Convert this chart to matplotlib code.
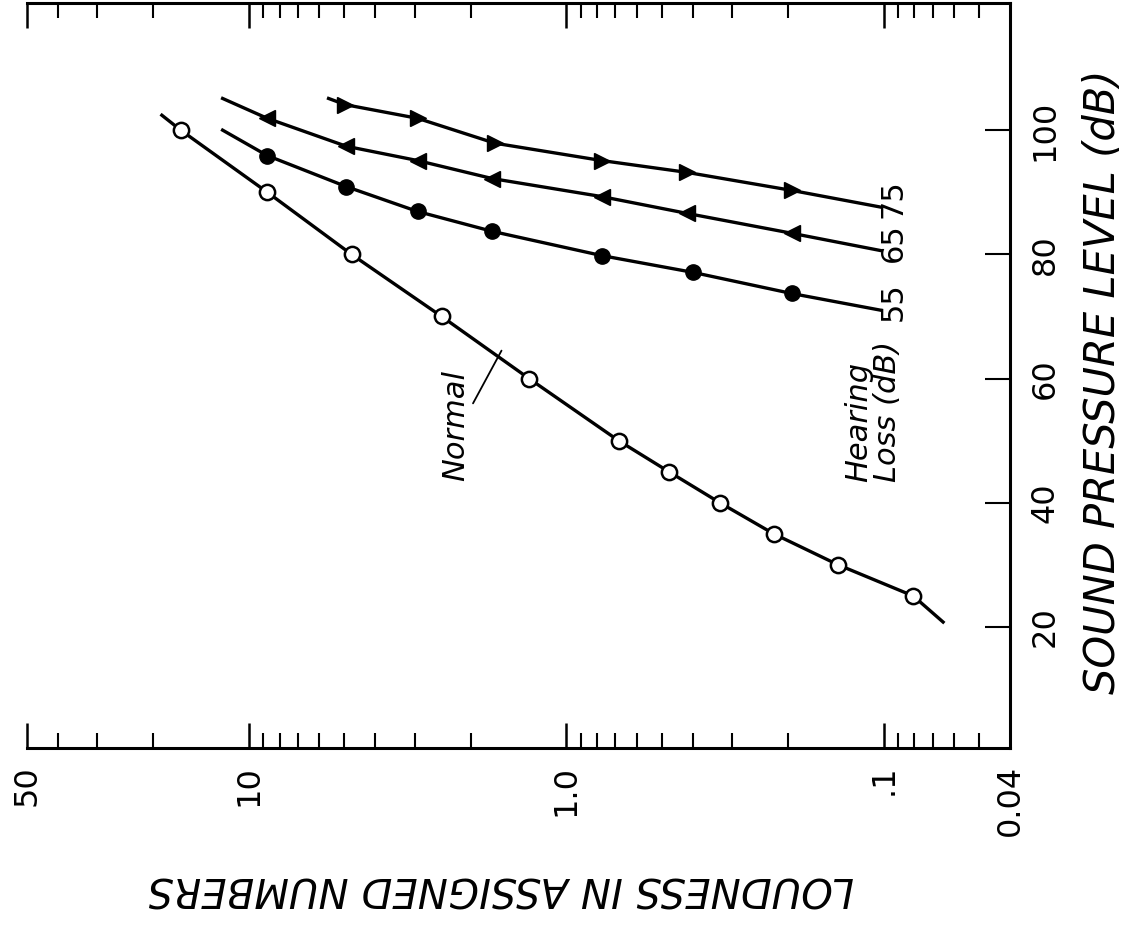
import matplotlib.pyplot as plt
from matplotlib.ticker import FixedLocator, LogLocator, NullFormatter

# Curva normal (circulos abiertos)
normal_loud = [16.4, 8.75, 4.75, 2.47, 1.31, 0.684, 0.475, 0.328, 0.222, 0.139, 0.0807]
normal_spl = [100, 90, 80, 70, 60, 50, 45, 40, 35, 30, 25]
normal_line_loud = [18.8, 16.4, 8.75, 4.75, 2.47, 1.31, 0.684, 0.475, 0.328, 0.222, 0.139, 0.0807, 0.065]
normal_line_spl = [102.4, 100, 90, 80, 70, 60, 50, 45, 40, 35, 30, 25, 20.8]

# Perdida auditiva 55 dB (circulos llenos)
hl55_loud = [8.75, 4.93, 2.94, 1.71, 0.773, 0.399, 0.195]
hl55_spl = [95.9, 90.9, 86.9, 83.7, 79.8, 77.1, 73.7]
hl55_line_loud = [12.1, 8.75, 4.93, 2.94, 1.71, 0.773, 0.399, 0.195, 0.102]
hl55_line_spl = [100.0, 95.9, 90.9, 86.9, 83.7, 79.8, 77.1, 73.7, 71.0]

# Perdida auditiva 65 dB (triangulos a la izquierda)
hl65_loud = [8.75, 4.93, 2.94, 1.71, 0.773, 0.417, 0.195]
hl65_spl = [101.9, 97.4, 95.1, 92.2, 89.3, 86.6, 83.4]
hl65_line_loud = [12.1, 8.75, 4.93, 2.94, 1.71, 0.773, 0.417, 0.195, 0.102]
hl65_line_spl = [105.1, 101.9, 97.4, 95.1, 92.2, 89.3, 86.6, 83.4, 80.6]

# Perdida auditiva 75 dB (triangulos a la derecha)
hl75_loud = [4.97, 2.94, 1.68, 0.773, 0.417, 0.195]
hl75_spl = [104.1, 101.9, 97.9, 95.1, 93.2, 90.3]
hl75_line_loud = [5.61, 4.97, 2.94, 1.68, 0.773, 0.417, 0.195, 0.102]
hl75_line_spl = [105.1, 104.1, 101.9, 97.9, 95.1, 93.2, 90.3, 87.6]

x_ticks = [50, 10, 1, 0.1, 0.04]
x_tick_labels = ['50', '10', '1.0', '.1', '0.04']
y_ticks = [20, 40, 60, 80, 100]

fig = plt.figure(figsize=(11.26, 9.34), dpi=100)
ax = fig.add_axes([0.024, 0.199, 0.873, 0.798])

lw = 2.4
ax.plot(normal_line_loud, normal_line_spl, color='black', lw=lw)
ax.plot(normal_loud, normal_spl, 'o', ms=11, mfc='white', mec='black', mew=1.8)

ax.plot(hl55_line_loud, hl55_line_spl, color='black', lw=lw)
ax.plot(hl55_loud, hl55_spl, 'o', ms=11, color='black')

ax.plot(hl65_line_loud, hl65_line_spl, color='black', lw=lw)
ax.plot(hl65_loud, hl65_spl, '<', ms=12, color='black')

ax.plot(hl75_line_loud, hl75_line_spl, color='black', lw=lw)
ax.plot(hl75_loud, hl75_spl, '>', ms=12, color='black')

# etiquetas al final de cada curva
for lx, ly, txt in [(hl55_line_loud[-1], hl55_line_spl[-1], '55'),
                    (hl65_line_loud[-1], hl65_line_spl[-1], '65'),
                    (hl75_line_loud[-1], hl75_line_spl[-1], '75')]:
    ax.annotate(txt, xy=(lx, ly), xytext=(9, 6), textcoords='offset points',
                rotation=90, ha='center', va='center', fontsize=22)

ax.text(0.108, 43.3, 'Hearing\nLoss (dB)', rotation=90, ha='center', va='bottom',
        multialignment='left', fontsize=22, style='italic', linespacing=1.0)

ax.annotate('Normal', xy=(1.6, 64.5), xytext=(2.23, 52.5), rotation=90,
            ha='center', va='center', fontsize=22, style='italic',
            arrowprops=dict(arrowstyle='-', color='black', lw=1.3,
                            shrinkA=0, shrinkB=0, relpos=(1.0, 0.65)))

ax.set_xscale('log')
ax.set_xlim(50, 0.04)
ax.set_ylim(0.5, 120.5)

ax.xaxis.set_major_locator(FixedLocator(x_ticks))
ax.set_xticklabels(x_tick_labels)
ax.xaxis.set_minor_locator(LogLocator(base=10, subs=range(2, 10), numticks=20))
ax.xaxis.set_minor_formatter(NullFormatter())
ax.tick_params(axis='x', which='major', direction='in', length=18, width=1.8,
               top=True, labelsize=23, labelrotation=90, pad=12)
ax.tick_params(axis='x', which='minor', direction='in', length=11, width=1.5, top=True)

ax.yaxis.tick_right()
ax.set_yticks(y_ticks)
ax.tick_params(axis='y', direction='in', length=18, width=1.5, left=False,
               right=True, labelsize=23, labelrotation=90, pad=14)
for lab in ax.get_yticklabels():
    lab.set_va('center')

ax.spines['left'].set_visible(False)
for s in ['top', 'right', 'bottom']:
    ax.spines[s].set_linewidth(2.2)

fig.text(501 / 1126, 1 - 888 / 934, 'LOUDNESS IN ASSIGNED NUMBERS', rotation=180,
         ha='center', va='center', fontsize=29, style='italic',
         family=['Liberation Sans Narrow', 'DejaVu Sans'])
fig.text(1103 / 1126, 1 - 382 / 934, 'SOUND PRESSURE LEVEL (dB)', rotation=90,
         ha='center', va='center', fontsize=30, style='italic',
         family=['Liberation Sans Narrow', 'DejaVu Sans'])

fig.savefig('out.png', dpi=100)
